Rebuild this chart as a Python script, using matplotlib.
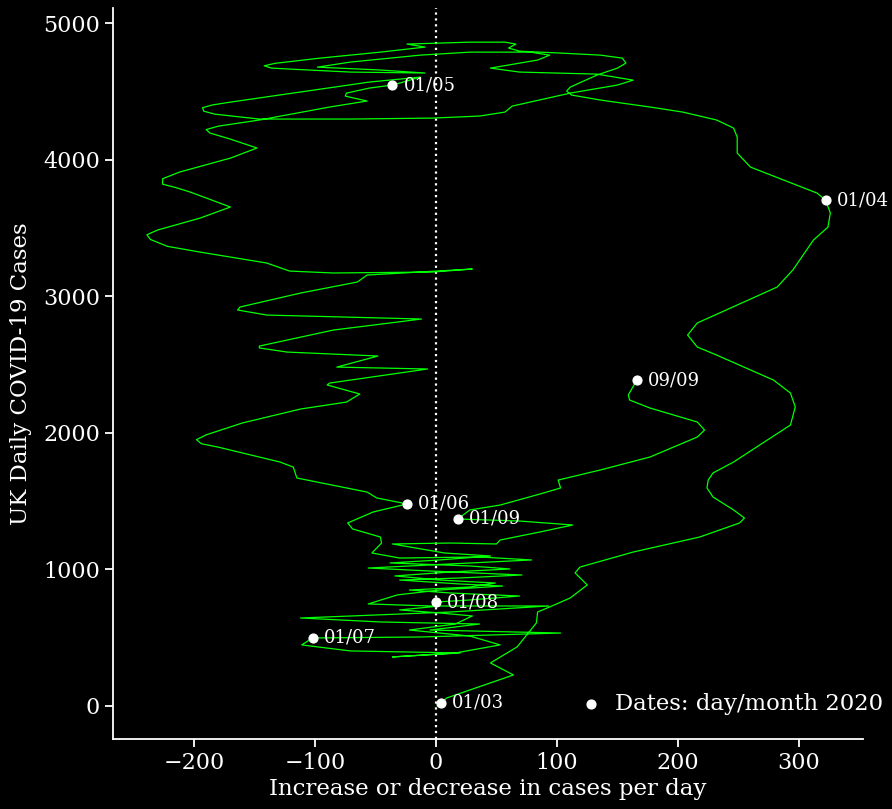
import matplotlib
matplotlib.use('Agg')
import matplotlib.pyplot as plt

# Trajectory: daily change (x) against daily cases (y)
march_change = [1, 4, 9, 64, 45, 67, 83, 84, 94, 111, 125, 115, 119, 163, 218, 251, 255, 246, 229, 224,
                225, 229, 246, 293, 297, 293, 279, 232, 216, 208, 216, 282, 295, 312, 324, 326, 322]
march_cases = [0, 22, 59, 227, 315, 432, 608, 688, 725, 791, 886, 974, 1017, 1127, 1237, 1340, 1376, 1435, 1530, 1596,
               1654, 1706, 1786, 2057, 2189, 2291, 2386, 2569, 2628, 2716, 2804, 3067, 3192, 3411, 3506, 3609, 3704]

april_change = [315, 260, 249, 249, 246, 232, 204, 177, 136, 112, 108, 111, 133, 150, 157, 154, 136, 103, 69, 60,
                66, 57, 28, 1, -24, -9, -46, -96, -133, -142, -136, -121, -71, -9, -46, -98, -71, -13, 28, 78, 94, 84,
                45, 69, 133, 163, 150, 111, 63, 57, 36, -3, -71, -146, -183, -192, -193, -185, -170, -112, -55, -13, -27, -36]
april_cases = [3755, 3945, 4048, 4165, 4231, 4290, 4348, 4385, 4436, 4473, 4502, 4531, 4619, 4670, 4707, 4743, 4765, 4780, 4794, 4817,
               4846, 4860, 4860, 4853, 4846, 4824, 4787, 4743, 4705, 4687, 4670, 4663, 4641, 4634, 4656, 4677, 4714, 4765, 4787, 4787, 4765, 4729,
               4670, 4641, 4626, 4582, 4546, 4487, 4392, 4348, 4319, 4304, 4297, 4297, 4333, 4355, 4380, 4400, 4421, 4495, 4568, 4604, 4568, 4546]

may_change = [-55, -74, -75, -57, -88, -146, -180, -190, -187, -170, -148, -170, -212, -226, -226, -215, -203, -170, -195, -230,
              -239, -236, -222, -195, -140, -121, -85, -3, 30, -57, -65, -112, -162, -164, -140, -12, -85, -146, -146, -123,
              -48, -82, -7, -88, -90, -63, -74, -112, -160, -190, -198, -194, -180, -129, -118, -115, -57, -49, -24]
may_cases = [4524, 4487, 4465, 4429, 4385, 4290, 4245, 4220, 4195, 4150, 4085, 4011, 3909, 3860, 3820, 3795, 3762, 3653, 3572, 3485,
             3450, 3415, 3365, 3323, 3243, 3184, 3170, 3177, 3199, 3155, 3104, 3023, 2921, 2899, 2862, 2833, 2752, 2635, 2621, 2591,
             2562, 2481, 2467, 2364, 2350, 2284, 2225, 2174, 2072, 1985, 1950, 1920, 1895, 1786, 1749, 1669, 1566, 1523, 1479]

summer_change = [-52, -73, -69, -46, -45, -53, -30, 36, 79, 28, -56, -5, 71, 20, -30, 20, 55, 3, -32, -56,
                 -5, 93, 12, -112, -46, 36, -5, 103, -13, -102, -111, -71, 20, -36]
summer_cases = [1420, 1340, 1296, 1237, 1193, 1120, 1083, 1091, 1069, 1047, 1010, 988, 959, 937, 922, 893, 878, 849, 813, 747,
                732, 732, 688, 644, 615, 600, 556, 534, 505, 498, 447, 403, 388, 359]

rise_change = [16, 53, 28, -22, 16, 30, 3, -30, 3, 0, 28, 69, 12, -22, 28, 49, 3, -34, 12, 61,
               28, -38, 3, 45, 7, -36, 12, 50, 53, 86, 113, 69, 18, 28, 53, 86, 103, 101, 136, 177,
               216, 222, 216, 177, 160, 159, 166]
rise_cases = [388, 447, 512, 556, 600, 659, 681, 703, 732, 761, 776, 805, 827, 849, 871, 900, 922, 952, 981, 1003,
              1025, 1047, 1069, 1098, 1120, 1186, 1193, 1186, 1215, 1274, 1325, 1354, 1369, 1435, 1471, 1552, 1596, 1654, 1728, 1823,
              1969, 2020, 2079, 2181, 2240, 2277, 2386]

# Marked dates
date_labels = ['01/03', '01/04', '01/05', '01/06', '01/07', '01/08', '01/09', '09/09']
date_change = [4, 322, -36, -24, -102, 0, 18, 166]
date_cases = [22, 3704, 4546, 1479, 498, 761, 1369, 2386]

change = march_change + april_change + may_change + summer_change + rise_change
cases = march_cases + april_cases + may_cases + summer_cases + rise_cases

plt.style.use('dark_background')
plt.rcParams['font.family'] = 'DejaVu Serif'

fig = plt.figure(figsize=(8.92, 8.09), dpi=100)
ax = fig.add_axes([0.1267, 0.0865, 0.8408, 0.9036])

ax.axvline(0, color='white', linestyle=':', linewidth=1.6, zorder=1)
ax.plot(change, cases, color='#00ff00', linewidth=0.9, zorder=2)
ax.scatter(date_change, date_cases, s=40, color='white', zorder=3, label='Dates: day/month 2020')
for lab, xv, yv in zip(date_labels, date_change, date_cases):
    ax.annotate(lab, (xv, yv), xytext=(8, 0), textcoords='offset points',
                va='center', ha='left', fontsize=13, color='white')

ax.set_xlim(-267, 353)
ax.set_ylim(-242, 5110)
ax.set_xticks([-200, -100, 0, 100, 200, 300])
ax.set_yticks([0, 1000, 2000, 3000, 4000, 5000])
ax.tick_params(labelsize=16, length=6, width=1.3, colors='white')
ax.spines['top'].set_visible(False)
ax.spines['right'].set_visible(False)
ax.spines['left'].set_linewidth(1.3)
ax.spines['bottom'].set_linewidth(1.3)

ax.set_xlabel('Increase or decrease in cases per day', fontsize=16.5, labelpad=3)
ax.set_ylabel('UK Daily COVID-19 Cases', fontsize=16.5, labelpad=8)
ax.legend(loc='center right', bbox_to_anchor=(1.027, 0.048), frameon=False, fontsize=16.4,
          handletextpad=0.25, handlelength=1.6, borderaxespad=0, borderpad=0)

fig.savefig('out.png', dpi=100, facecolor='black')
